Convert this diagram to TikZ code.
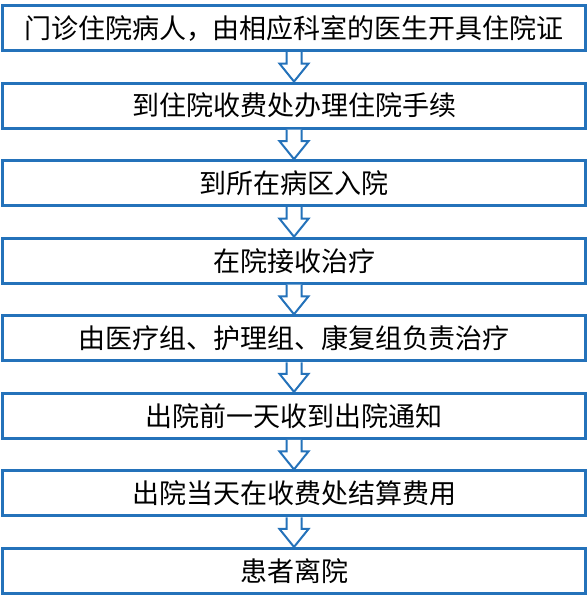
\documentclass[tikz,border=0pt]{standalone}
\usepackage{fontspec}
\setmainfont{Noto Sans CJK SC}
\usetikzlibrary{positioning,calc}

\definecolor{flowblue}{RGB}{36,114,186}
\def\flowarrow#1#2{\draw[arrowline] let \p1=(#1.south), \p2=(#2.north) in
    (\x1-7.5pt,\y1) -- (\x1-7.5pt,\y2+18pt) -- (\x1-14.5pt,\y2+18pt) -- (\x1,\y2)
    -- (\x1+14.5pt,\y2+18pt) -- (\x1+7.5pt,\y2+18pt) -- (\x1+7.5pt,\y1);}

\begin{document}
\begin{tikzpicture}[x=1pt,y=1pt,
    stepbox/.style={draw=flowblue, line width=3pt, fill=white, minimum width=583pt,
        minimum height=45pt, inner sep=0pt, font=\fontsize{27}{30}\selectfont},
    arrowline/.style={draw=flowblue, line width=2pt, fill=white, line join=miter},
    node distance=29.57pt]
    \useasboundingbox (0,0) rectangle (588,-600);
    \node[stepbox] (admit) at (294,-28) {门诊住院病人，由相应科室的医生开具住院证};
    \node[stepbox, below=of admit] (register) {到住院收费处办理住院手续};
    \node[stepbox, below=of register] (ward) {到所在病区入院};
    \node[stepbox, below=of ward] (treat) {在院接收治疗};
    \node[stepbox, below=of treat] (team) {由医疗组、护理组、康复组负责治疗};
    \node[stepbox, below=of team] (notice) {出院前一天收到出院通知};
    \node[stepbox, below=of notice] (settle) {出院当天在收费处结算费用};
    \node[stepbox, below=of settle] (leave) {患者离院};
    % hollow arrows between the steps
    \flowarrow{admit}{register}
    \flowarrow{register}{ward}
    \flowarrow{ward}{treat}
    \flowarrow{treat}{team}
    \flowarrow{team}{notice}
    \flowarrow{notice}{settle}
    \flowarrow{settle}{leave}
\end{tikzpicture}
\end{document}
